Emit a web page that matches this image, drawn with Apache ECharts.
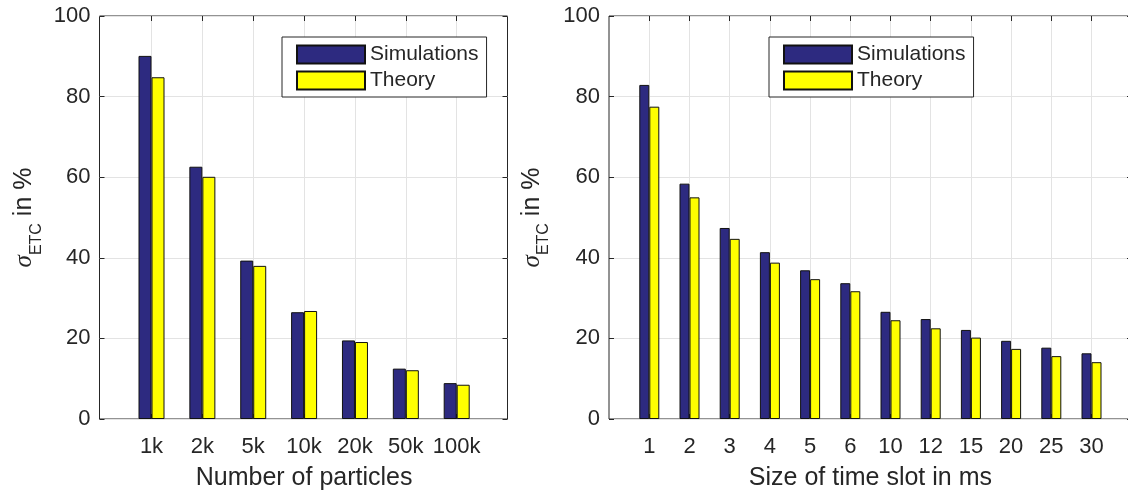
<!DOCTYPE html>
<html>
<head>
<meta charset="utf-8">
<script src="https://cdn.jsdelivr.net/npm/echarts@6/dist/echarts.min.js"></script>
<style>
  html, body { margin: 0; padding: 0; background: #fff; }
  #chart { width: 1128px; height: 490px; }
</style>
</head>
<body>
<div id="chart"></div>
<script>
// left panel: number of particles
const particleCats = ['1k', '2k', '5k', '10k', '20k', '50k', '100k'];
const particleSim = [90.1, 62.6, 39.3, 26.5, 19.5, 12.5, 8.9];
const particleTheory = [84.8, 60.1, 38.0, 26.8, 19.1, 12.1, 8.5];

// right panel: size of time slot
const slotCats = ['1', '2', '3', '4', '5', '6', '10', '12', '15', '20', '25', '30'];
const slotSim = [82.9, 58.4, 47.4, 41.4, 36.9, 33.7, 26.6, 24.8, 22.1, 19.4, 17.7, 16.3];
const slotTheory = [77.5, 55.0, 44.7, 38.8, 34.7, 31.7, 24.5, 22.5, 20.2, 17.4, 15.6, 14.1];

const yMin = 0, yMax = 100, yStep = 20;

const font = 'Liberation Sans, Arial, sans-serif';
const ink = '#262626';
const gridGray = '#e3e3e3';
const simColor = '#2d2a80';
const theoryColor = '#ffff00';

const yName = '{s|σ}{sub|ETC}{t| in %}';
const yNameStyle = {
    color: ink,
    fontFamily: font,
    rich: {
        s: { fontSize: 25, fontStyle: 'italic', fontFamily: 'Liberation Serif, serif', lineHeight: 40, verticalAlign: 'middle', color: ink },
        sub: { fontSize: 16, lineHeight: 16, verticalAlign: 'bottom', fontFamily: font, color: ink },
        t: { fontSize: 25, lineHeight: 40, verticalAlign: 'middle', fontFamily: font, color: ink }
    }
};

function frameX(gridIndex) {
    return { gridIndex: gridIndex, type: 'value', min: 0, max: 1, show: false };
}
function frameYLeft(gridIndex, gap) {
    return {
        gridIndex: gridIndex, type: 'value', min: yMin, max: yMax, interval: yStep,
        position: 'left',
        name: yName, nameLocation: 'middle', nameGap: gap, nameTextStyle: yNameStyle,
        axisLine: { show: false },
        axisTick: { show: true, inside: true, length: 5, lineStyle: { color: ink } },
        axisLabel: { color: ink, fontSize: 22, fontFamily: font, margin: 9 },
        splitLine: { show: true, lineStyle: { color: gridGray, width: 1 } }
    };
}
function frameYRight(gridIndex) {
    return {
        gridIndex: gridIndex, type: 'value', min: yMin, max: yMax, interval: yStep,
        position: 'right',
        axisLine: { show: false },
        axisTick: { show: true, inside: true, length: 5, lineStyle: { color: ink } },
        axisLabel: { show: false },
        splitLine: { show: false }
    };
}
function barX(gridIndex, cats, name) {
    return {
        gridIndex: gridIndex, type: 'category', data: cats, boundaryGap: false,
        position: 'bottom',
        name: name, nameLocation: 'middle', nameGap: 47,
        nameTextStyle: { color: ink, fontSize: 25, fontFamily: font },
        axisLine: { show: false },
        axisTick: { show: true, inside: true, length: 5, interval: 0, lineStyle: { color: ink } },
        axisLabel: { color: ink, fontSize: 22, fontFamily: font, margin: 17, interval: 0 },
        splitLine: { show: true, interval: 0, lineStyle: { color: gridGray, width: 1 } }
    };
}
function barXTop(gridIndex, cats) {
    return {
        gridIndex: gridIndex, type: 'category', data: cats, boundaryGap: false,
        position: 'top',
        axisLine: { show: false },
        axisTick: { show: true, inside: true, length: 5, interval: 0, lineStyle: { color: ink } },
        axisLabel: { show: false },
        splitLine: { show: false }
    };
}
function barY(gridIndex) {
    return { gridIndex: gridIndex, type: 'value', min: yMin, max: yMax, show: false };
}
function bars(name, data, color, xIdx, yIdx, width) {
    return {
        name: name, type: 'bar', data: data,
        xAxisIndex: xIdx, yAxisIndex: yIdx,
        barWidth: width, barGap: '0%', clip: false,
        itemStyle: { color: color, borderColor: '#111', borderWidth: 1 },
        emphasis: { disabled: true }
    };
}
function legendBox(left) {
    return {
        data: ['Simulations', 'Theory'],
        orient: 'vertical', left: left, top: 37,
        icon: 'rect', itemWidth: 68, itemHeight: 18, itemGap: 5,
        padding: [7, 8, 6, 14],
        backgroundColor: '#fff', borderColor: ink, borderWidth: 1,
        textStyle: { color: ink, fontSize: 21, fontFamily: font, lineHeight: 21 },
        selectedMode: false
    };
}

const option = {
    backgroundColor: '#fff',
    animation: false,
    grid: [
        { left: 99.5, top: 16, width: 408, height: 403, outerBoundsMode: 'none', containLabel: false, show: true, borderColor: ink, borderWidth: 1, backgroundColor: 'transparent' },
        { left: 151.5, top: 16, width: 305.2, height: 403, outerBoundsMode: 'none', containLabel: false },
        { left: 609, top: 16, width: 523, height: 403, outerBoundsMode: 'none', containLabel: false, show: true, borderColor: ink, borderWidth: 1, backgroundColor: 'transparent' },
        { left: 649.3, top: 16, width: 442.2, height: 403, outerBoundsMode: 'none', containLabel: false }
    ],
    xAxis: [
        frameX(0),
        barX(1, particleCats, 'Number of particles'),
        barXTop(1, particleCats),
        frameX(2),
        barX(3, slotCats, 'Size of time slot in ms'),
        barXTop(3, slotCats)
    ],
    yAxis: [
        frameYLeft(0, 55),
        frameYRight(0),
        barY(1),
        frameYLeft(2, 57),
        frameYRight(2),
        barY(3)
    ],
    legend: [legendBox(282), legendBox(769)],
    series: [
        bars('Simulations', particleSim, simColor, 1, 2, 13),
        bars('Theory', particleTheory, theoryColor, 1, 2, 13),
        bars('Simulations', slotSim, simColor, 4, 5, 10),
        bars('Theory', slotTheory, theoryColor, 4, 5, 10)
    ]
};

echarts.init(document.getElementById('chart')).setOption(option);
</script>
</body>
</html>
